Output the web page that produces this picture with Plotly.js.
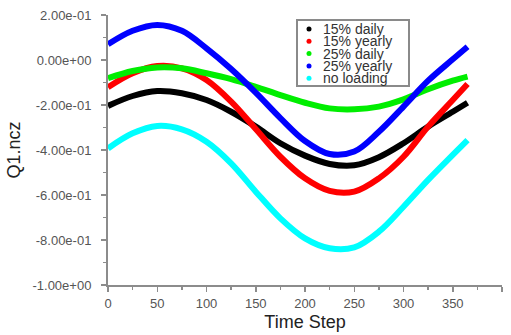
<!DOCTYPE html>
<html>
<head>
<meta charset="utf-8">
<script src="https://cdn.plot.ly/plotly-3.0.1.min.js"></script>
<style>html,body{margin:0;padding:0;background:#fff}#chart{width:511px;height:335px}</style>
</head>
<body>
<div id="chart"></div>
<script>
const timeSteps = [0, 25, 50, 75, 100, 125, 150, 175, 200, 225, 250, 275, 300, 325, 350, 365];

const daily15  = [-0.204, -0.160, -0.138, -0.148, -0.178, -0.230, -0.296, -0.370, -0.425, -0.462, -0.468, -0.432, -0.370, -0.296, -0.230, -0.190];
const yearly15 = [-0.121, -0.059, -0.027, -0.037, -0.089, -0.185, -0.307, -0.430, -0.526, -0.582, -0.585, -0.526, -0.430, -0.296, -0.178, -0.107];
const daily25  = [-0.081, -0.049, -0.033, -0.037, -0.059, -0.085, -0.119, -0.156, -0.190, -0.215, -0.219, -0.207, -0.175, -0.130, -0.092, -0.074];
const yearly25 = [0.070, 0.130, 0.156, 0.130, 0.052, -0.040, -0.145, -0.258, -0.360, -0.418, -0.407, -0.319, -0.207, -0.092, 0.003, 0.059];
const noLoad   = [-0.393, -0.326, -0.293, -0.308, -0.363, -0.459, -0.585, -0.704, -0.793, -0.837, -0.833, -0.763, -0.652, -0.533, -0.422, -0.356];

const seriesNames = ["15% daily", "15% yearly", "25% daily", "25% yearly", "no loading"];
const seriesColors = ["#000000", "#ff0000", "#00ee00", "#0000ff", "#00ffff"];
const seriesValues = [daily15, yearly15, daily25, yearly25, noLoad];

const yTickVals = [0.2, 0.0, -0.2, -0.4, -0.6, -0.8, -1.0];
const yTickText = ["2.00e-01", "0.00e+00", "-2.00e-01", "-4.00e-01", "-6.00e-01", "-8.00e-01", "-1.00e+00"];
const xTickVals = [0, 50, 100, 150, 200, 250, 300, 350, 400];

// Draw order: cyan, black, red, green, blue (blue on top)
const drawOrder = [4, 0, 1, 2, 3];
const traces = drawOrder.map(i => ({
  x: timeSteps,
  y: seriesValues[i],
  name: seriesNames[i],
  type: "scatter",
  mode: "lines",
  line: {color: seriesColors[i], width: 6, shape: "spline", smoothing: 1},
  showlegend: false,
  hoverinfo: "skip"
}));

const fontFam = "Arial, 'Liberation Sans', sans-serif";

// Custom compact legend
const legTopPx = 29, legStepPx = 12.3, plotTop = 15, plotH = 270, plotL = 108, plotW = 394;
const annotations = [];
const shapes = [{
  type: "rect", xref: "paper", yref: "paper",
  x0: (297 - plotL) / plotW, x1: (409 - plotL) / plotW,
  y0: (plotTop + plotH - 86) / plotH, y1: (plotTop + plotH - 20) / plotH,
  line: {color: "#8a8a8a", width: 2}, fillcolor: "rgba(255,255,255,0)"
}];
seriesNames.forEach((nm, i) => {
  const yPx = legTopPx + i * legStepPx;
  const yPaper = (plotTop + plotH - yPx) / plotH;
  shapes.push({
    type: "circle", xref: "paper", yref: "paper",
    x0: (306.5 - plotL) / plotW, x1: (311.5 - plotL) / plotW,
    y0: yPaper - 2.5 / plotH, y1: yPaper + 2.5 / plotH,
    fillcolor: seriesColors[i], line: {width: 0}
  });
  annotations.push({
    xref: "paper", yref: "paper",
    x: (321 - plotL) / plotW, y: yPaper,
    xanchor: "left", yanchor: "middle",
    text: nm, showarrow: false,
    font: {family: fontFam, size: 14, color: "#333333"}
  });
});

const layout = {
  width: 511, height: 335,
  margin: {l: 108, r: 9, t: 15, b: 50},
  paper_bgcolor: "#ffffff", plot_bgcolor: "#ffffff",
  showlegend: false,
  xaxis: {
    range: [0, 400], tickvals: xTickVals, ticktext: xTickVals.map(String),
    showgrid: false, zeroline: false, showline: true, linecolor: "#8c8c8c", linewidth: 2,
    ticks: "outside", ticklen: 5, tickwidth: 1.5, tickcolor: "#8c8c8c",
    minor: {dtick: 25, tick0: 0, ticks: "outside", ticklen: 3, tickcolor: "#8c8c8c", tickwidth: 1.5},
    tickfont: {family: fontFam, size: 13, color: "#555555"},
    title: {text: "Time Step", font: {family: fontFam, size: 18, color: "#222222"}, standoff: 6},
    automargin: false
  },
  yaxis: {
    range: [-1.0, 0.2], tickvals: yTickVals, ticktext: yTickText,
    showgrid: false, zeroline: false, showline: true, linecolor: "#8c8c8c", linewidth: 2,
    ticks: "outside", ticklen: 5, tickwidth: 1.5, tickcolor: "#8c8c8c",
    minor: {dtick: 0.1, tick0: 0, ticks: "outside", ticklen: 3, tickcolor: "#8c8c8c", tickwidth: 1.5},
    tickfont: {family: fontFam, size: 13, color: "#555555"},
    ticklabelstandoff: 7,
    title: {text: "Q1.ncz", font: {family: fontFam, size: 18, color: "#222222"}, standoff: 7},
    automargin: false
  },
  shapes: shapes,
  annotations: annotations
};

Plotly.newPlot("chart", traces, layout, {displayModeBar: false, staticPlot: true});
</script>
</body>
</html>
